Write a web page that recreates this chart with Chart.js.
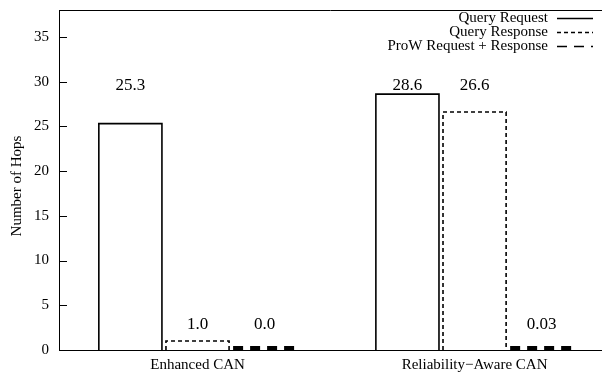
<!DOCTYPE html>
<html>
<head>
<meta charset="utf-8">
<script src="https://cdn.jsdelivr.net/npm/chart.js@4"></script>
<style>
  html, body { margin: 0; padding: 0; background: #fff; }
</style>
</head>
<body>
<canvas id="chart" width="602" height="374"></canvas>
<script>
const categories = ['Enhanced CAN', 'Reliability\u2212Aware CAN'];
const seriesNames = ['Query Request', 'Query Response', 'ProW Request + Response'];
const queryRequest = [25.3, 28.6];
const queryResponse = [1.0, 26.6];
const prowRequestResponse = [0.0, 0.03];
const yTicks = [0, 5, 10, 15, 20, 25, 30, 35];

const serif = "'Liberation Serif', 'Times New Roman', serif";
const dashes = [[], [4, 3], [10, 7]];

function toPoints(values) {
  return values.map((v, i) => ({ x: i, y: v }));
}

function fmt(v) {
  return v > 0 && v < 0.1 ? v.toFixed(2) : v.toFixed(1);
}

// gnuplot style box outlines (bars can't take a dash pattern in Chart.js)
const outlines = {
  id: 'outlines',
  afterDatasetsDraw(chart) {
    const ctx = chart.ctx;
    const y = chart.scales.y;
    chart.data.datasets.forEach((ds, i) => {
      const meta = chart.getDatasetMeta(i);
      meta.data.forEach((bar, j) => {
        const p = bar.getProps(['x', 'y', 'base', 'width'], true);
        const left = p.x - p.width / 2;
        const right = p.x + p.width / 2;
        ctx.save();
        ctx.strokeStyle = '#000';
        ctx.setLineDash(ds.dash);
        ctx.beginPath();
        if (p.base - p.y < 4) {
          ctx.lineWidth = 4;
          ctx.moveTo(left, p.base - 2);
          ctx.lineTo(right, p.base - 2);
        } else {
          ctx.lineWidth = 1.6;
          ctx.moveTo(left, p.base);
          ctx.lineTo(left, p.y);
          ctx.lineTo(right, p.y);
          ctx.lineTo(right, p.base);
        }
        ctx.stroke();
        ctx.restore();

        // value label
        const v = ds.data[j].y;
        const ly = y.getPixelForValue(v > 10 ? 29.6 : 2.8);
        ctx.save();
        ctx.fillStyle = '#000';
        ctx.font = '17px ' + serif;
        ctx.textAlign = 'center';
        ctx.textBaseline = 'middle';
        ctx.fillText(fmt(v), p.x, ly);
        ctx.restore();
      });
    });
  },
  afterDraw(chart) {
    const ctx = chart.ctx;
    const a = chart.chartArea;
    const y = chart.scales.y;
    ctx.save();
    ctx.strokeStyle = '#000';
    ctx.lineWidth = 1;
    // top border
    ctx.beginPath();
    ctx.moveTo(a.left, a.top + 0.5);
    ctx.lineTo(a.right, a.top + 0.5);
    ctx.stroke();
    // inward y ticks
    yTicks.forEach(t => {
      const py = Math.round(y.getPixelForValue(t)) + 0.5;
      ctx.beginPath();
      ctx.moveTo(a.left, py);
      ctx.lineTo(a.left + 8, py);
      ctx.stroke();
    });
    // y title
    ctx.save();
    ctx.fillStyle = '#000';
    ctx.font = '15px ' + serif;
    ctx.textAlign = 'center';
    ctx.textBaseline = 'middle';
    ctx.translate(17, 186);
    ctx.rotate(-Math.PI / 2);
    ctx.fillText('Number of Hops', 0, 0);
    ctx.restore();
    // legend: text then sample, right aligned
    ctx.font = '15px ' + serif;
    ctx.fillStyle = '#000';
    ctx.textAlign = 'right';
    ctx.textBaseline = 'middle';
    chart.data.datasets.forEach((ds, i) => {
      const ry = 18 + i * 14;
      ctx.fillText(ds.label, 548, ry);
      ctx.save();
      ctx.lineWidth = 1.6;
      ctx.setLineDash(ds.dash);
      ctx.beginPath();
      ctx.moveTo(557, ry + 0.5);
      ctx.lineTo(593, ry + 0.5);
      ctx.stroke();
      ctx.restore();
    });
    ctx.restore();
  }
};

const seriesValues = [queryRequest, queryResponse, prowRequestResponse];

new Chart(document.getElementById('chart'), {
  type: 'bar',
  data: {
    datasets: seriesValues.map((vals, i) => ({
      label: seriesNames[i],
      data: toPoints(vals),
      backgroundColor: '#fff',
      borderWidth: 0,
      dash: dashes[i],
      categoryPercentage: 0.727,
      barPercentage: 0.94,
    })),
  },
  options: {
    responsive: false,
    animation: false,
    layout: { padding: { top: 10, right: 0, left: 0, bottom: 0 } },
    plugins: {
      legend: { display: false },
      tooltip: { enabled: false },
    },
    scales: {
      x: {
        type: 'linear',
        offset: false,
        min: -0.5,
        max: 1.46,
        afterBuildTicks: (scale) => {
          scale.ticks = categories.map((c, i) => ({ value: i }));
        },
        afterFit: (scale) => {
          scale.height = 24;
          scale.paddingLeft = 0;
          scale.paddingRight = 0;
        },
        ticks: {
          color: '#000',
          font: { family: serif, size: 15 },
          padding: 6,
          autoSkip: false,
          maxRotation: 0,
          callback: (v) => categories[Math.round(v)],
        },
        grid: { display: false, offset: false, tickLength: 0 },
        border: { display: true, color: '#000', width: 1 },
      },
      y: {
        min: 0,
        max: 38,
        afterBuildTicks: (scale) => {
          scale.ticks = yTicks.map(v => ({ value: v }));
        },
        afterFit: (scale) => {
          scale.width = 59;
          scale.paddingTop = 0;
          scale.paddingBottom = 0;
        },
        ticks: {
          color: '#000',
          font: { family: serif, size: 15 },
          padding: 10,
        },
        grid: { display: false, tickLength: 0 },
        border: { display: true, color: '#000', width: 1 },
      },
    },
  },
  plugins: [outlines],
});
</script>
</body>
</html>
